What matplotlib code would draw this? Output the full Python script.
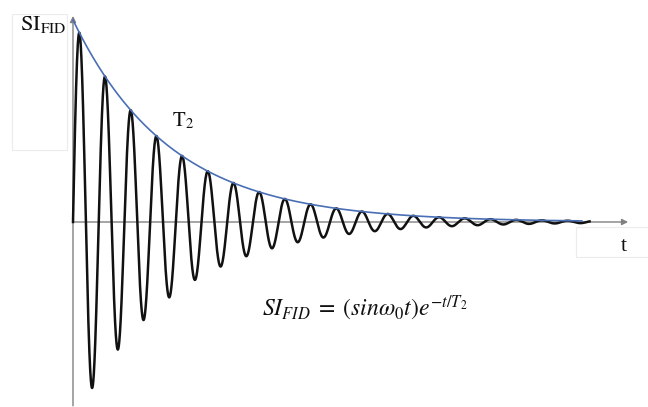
import numpy as np
import matplotlib
matplotlib.use("Agg")
import matplotlib.pyplot as plt
from matplotlib.patches import Rectangle

# parameters (time in units of one oscillation period)
omega0 = 2 * np.pi      # one cycle per time unit
T2 = 3.8                # decay constant
t_signal_end = 20.1     # where the black trace stops
t_env_end = 19.8        # where the blue envelope stops
t_axis_end = 21.6       # x-axis arrow tip
y_axis_top = 1.02
y_axis_bottom = -0.91

t = np.linspace(0, t_signal_end, 4000)
signal = np.sin(omega0 * t) * np.exp(-t / T2)
t_env = np.linspace(0, t_env_end, 400)
envelope = np.exp(-t_env / T2)

plt.rcParams['mathtext.fontset'] = 'stix'

W, H = 648, 407
fig = plt.figure(figsize=(W / 100, H / 100), dpi=100)
ax = fig.add_axes([0, 0, 1, 1])
ax.set_axis_off()

# map data to pixel layout: t=0 at x=73px, zero line at y=222px
px_per_t = 25.7
px_per_amp = 202
x0, y0 = 73, 222
ax.set_xlim(-x0 / px_per_t, (W - x0) / px_per_t)
ax.set_ylim(-(H - y0) / px_per_amp, y0 / px_per_amp)

# faint text-box outlines
fig.patches.append(Rectangle((12 / W, 1 - 150 / H), 55 / W, 136 / H,
                             transform=fig.transFigure, fill=False,
                             edgecolor='#ececec', lw=0.8))
fig.patches.append(Rectangle((576 / W, 1 - 257 / H), 80 / W, 30 / H,
                             transform=fig.transFigure, fill=False,
                             edgecolor='#ececec', lw=0.8))

# axes with arrows
arrow = dict(arrowstyle='-|>', color='#808080', lw=1.0, mutation_scale=9,
             shrinkA=0, shrinkB=0)
ax.annotate('', xy=(0, y_axis_top), xytext=(0, y_axis_bottom), arrowprops=arrow)
ax.annotate('', xy=(t_axis_end, 0), xytext=(0, 0), arrowprops=arrow)

ax.plot(t, signal, color='#111111', lw=1.8, zorder=3)
ax.plot(t_env, envelope, color='#4a6fb5', lw=1.2, zorder=4)

ax.text(-2.07, 1.03, r'$\mathrm{SI}_{\mathrm{FID}}$', fontsize=16, ha='left',
        va='top', color='#111111')
ax.text(3.86, 0.5, r'$\mathrm{T}_{2}$', fontsize=15, ha='left', va='center',
        color='#111111')
ax.text(21.42, -0.12, 't', fontsize=16, family='Liberation Serif',
        ha='center', va='center', color='#111111')
ax.text(7.35, -0.43, r'$SI_{FID}\; =\; (sin\omega_0 t)e^{-t/T_2}$',
        fontsize=17, ha='left', va='center', color='#111111')

fig.savefig('out.png', dpi=100)
